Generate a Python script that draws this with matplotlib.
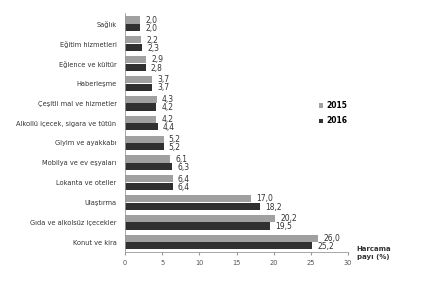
import numpy as np
import matplotlib.pyplot as plt

categories = ['Sağlık', 'Eğitim hizmetleri', 'Eğlence ve kültür', 'Haberleşme',
              'Çeşitli mal ve hizmetler', 'Alkollü içecek, sigara ve tütün',
              'Giyim ve ayakkabı', 'Mobilya ve ev eşyaları', 'Lokanta ve oteller',
              'Ulaştırma', 'Gıda ve alkolsüz içecekler', 'Konut ve kira']
v2015 = [2.0, 2.2, 2.9, 3.7, 4.3, 4.2, 5.2, 6.1, 6.4, 17.0, 20.2, 26.0]
v2016 = [2.0, 2.3, 2.8, 3.7, 4.2, 4.4, 5.2, 6.3, 6.4, 18.2, 19.5, 25.2]
xticks = [0, 5, 10, 15, 20, 25, 30]

fig = plt.figure(figsize=(4.22, 2.81), dpi=100)
ax = fig.add_axes([0.296, 0.103, 0.529, 0.851])

y = np.arange(len(categories))
h = 0.36
ax.barh(y - h / 2 - 0.01, v2015, height=h, color='#a0a0a0', label='2015')
ax.barh(y + h / 2 + 0.01, v2016, height=h, color='#303030', label='2016')

for i in range(len(categories)):
    ax.text(v2015[i] + 0.7, y[i] - h / 2, f'{v2015[i]:.1f}'.replace('.', ','),
            va='center', ha='left', fontsize=5.5, color='#333333')
    ax.text(v2016[i] + 0.7, y[i] + h / 2 + 0.05, f'{v2016[i]:.1f}'.replace('.', ','),
            va='center', ha='left', fontsize=5.5, color='#333333')

ax.set_ylim(len(categories) - 0.5, -0.55)
ax.set_xlim(0, 30)
ax.set_yticks(y)
ax.set_yticklabels(categories, fontsize=4.8, color='#333333')
ax.set_xticks(xticks)
ax.set_xticklabels([str(t) for t in xticks], fontsize=4.8, color='#555555')
ax.tick_params(axis='y', length=0, pad=6)
ax.tick_params(axis='x', length=2, color='#999999', pad=4)
for s in ['top', 'right']:
    ax.spines[s].set_visible(False)
ax.spines['left'].set_color('#999999')
ax.spines['bottom'].set_color('#999999')
ax.spines['left'].set_linewidth(0.6)
ax.spines['bottom'].set_linewidth(0.6)

ax.legend(loc='center left', bbox_to_anchor=(0.84, 0.58), frameon=False,
          handlelength=0.5, handleheight=0.5, handletextpad=0.4,
          labelspacing=0.8, prop={'weight': 'bold', 'size': 5.5})

fig.text(0.845, 0.1, 'Harcama\npayı (%)', fontsize=5, fontweight='bold',
         color='#333333', va='center', ha='left', linespacing=1.3)

fig.savefig('out.png', dpi=100)
